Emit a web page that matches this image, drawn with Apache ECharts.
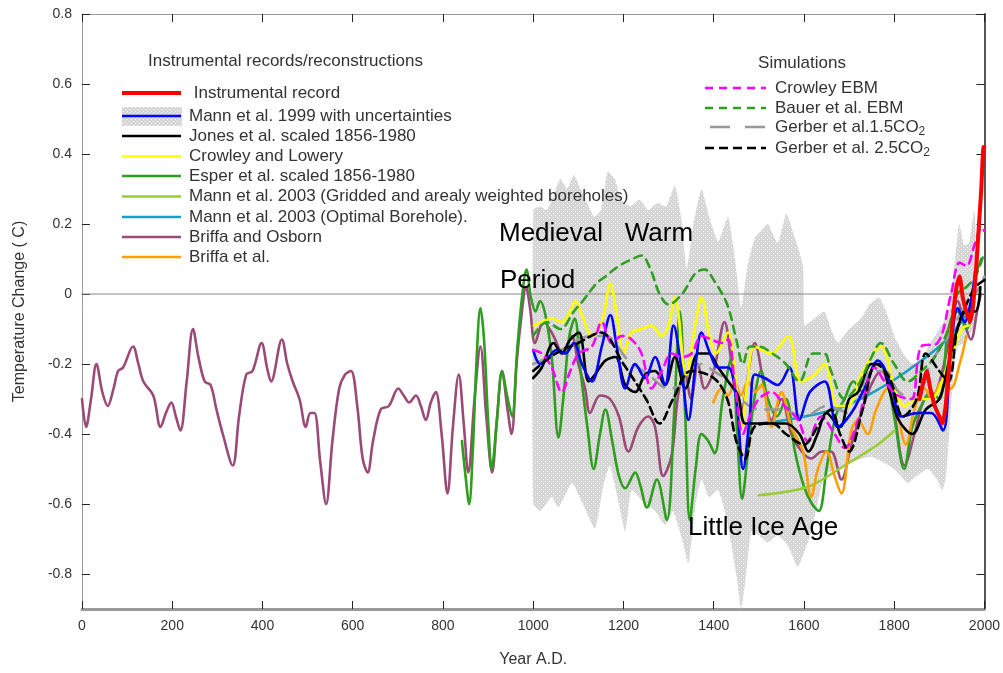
<!DOCTYPE html>
<html><head><meta charset="utf-8">
<script src="https://cdn.jsdelivr.net/npm/echarts@6/dist/echarts.min.js"></script>
<style>html,body{margin:0;padding:0;background:#fff}#c{width:1003px;height:673px}</style>
</head><body><div id="c"></div>
<script>
// ---------- tick labels ----------
const xTickValues = [0,200,400,600,800,1000,1200,1400,1600,1800,2000];
const yTickValues = [-0.8,-0.6,-0.4,-0.2,0,0.2,0.4,0.6,0.8];

// ---------- series data [year, value] ----------
const briffaOsborn = [[0,-0.30],[9,-0.38],[20,-0.3],[32,-0.20],[45,-0.28],[57,-0.32],[70,-0.27],[80,-0.22],[91,-0.21],[113,-0.15],[125,-0.2],[136,-0.25],[158,-0.29],[174,-0.38],[186,-0.34],[198,-0.31],[208,-0.35],[218,-0.39],[232,-0.25],[246,-0.10],[258,-0.18],[272,-0.25],[285,-0.26],[298,-0.33],[312,-0.40],[334,-0.49],[348,-0.35],[364,-0.23],[378,-0.22],[398,-0.14],[410,-0.21],[419,-0.25],[443,-0.13],[455,-0.2],[467,-0.25],[482,-0.3],[496,-0.38],[506,-0.34],[515,-0.34],[528,-0.48],[541,-0.60],[555,-0.42],[570,-0.27],[583,-0.23],[596,-0.22],[610,-0.32],[622,-0.47],[633,-0.51],[645,-0.42],[662,-0.33],[680,-0.32],[701,-0.27],[713,-0.29],[725,-0.31],[740,-0.29],[751,-0.32],[762,-0.36],[773,-0.31],[784,-0.28],[797,-0.4],[810,-0.57],[822,-0.38],[835,-0.23],[846,-0.37],[856,-0.51],[870,-0.3],[883,-0.15],[896,-0.35],[909,-0.51],[920,-0.35],[931,-0.22],[942,-0.32],[952,-0.40],[963,-0.2],[975,-0.05],[984,0.02],[993,-0.04],[1004,-0.14],[1023,-0.08],[1045,-0.12],[1065,-0.17],[1085,-0.12],[1100,-0.2],[1115,-0.27],[1126,-0.34],[1148,-0.29],[1170,-0.30],[1190,-0.35],[1211,-0.45],[1233,-0.38],[1255,-0.35],[1270,-0.38],[1288,-0.52],[1307,-0.46],[1320,-0.3],[1335,-0.22],[1350,-0.3],[1365,-0.2],[1380,-0.27],[1400,-0.22],[1424,-0.08],[1440,-0.2],[1461,-0.33],[1491,-0.14],[1510,-0.25],[1528,-0.36],[1550,-0.3],[1572,-0.4],[1595,-0.45],[1616,-0.47],[1640,-0.45],[1660,-0.45],[1683,-0.53],[1705,-0.43],[1727,-0.34],[1749,-0.26],[1771,-0.22],[1795,-0.3],[1823,-0.49],[1845,-0.4],[1867,-0.3],[1890,-0.29],[1919,-0.15],[1941,-0.02],[1955,-0.08],[1970,-0.13],[1985,-0.04],[1992,0.0]];
const esper = [[842,-0.42],[850,-0.52],[858,-0.60],[866,-0.45],[874,-0.2],[883,-0.04],[891,-0.13],[900,-0.36],[908,-0.50],[919,-0.37],[931,-0.22],[942,-0.29],[953,-0.35],[965,-0.15],[976,0.0],[985,0.07],[995,-0.01],[1005,-0.05],[1015,-0.02],[1027,-0.06],[1041,-0.18],[1056,-0.41],[1068,-0.28],[1080,-0.12],[1092,-0.07],[1105,-0.22],[1120,-0.38],[1134,-0.50],[1148,-0.40],[1160,-0.33],[1175,-0.42],[1190,-0.52],[1204,-0.555],[1226,-0.51],[1238,-0.55],[1252,-0.61],[1274,-0.53],[1296,-0.646],[1312,-0.35],[1325,-0.05],[1337,-0.35],[1347,-0.646],[1360,-0.5],[1373,-0.4],[1388,-0.42],[1402,-0.455],[1420,-0.3],[1440,-0.18],[1452,-0.4],[1463,-0.585],[1476,-0.45],[1490,-0.3],[1505,-0.22],[1520,-0.3],[1540,-0.35],[1560,-0.3],[1580,-0.45],[1600,-0.55],[1618,-0.6],[1633,-0.62],[1650,-0.5],[1670,-0.35],[1690,-0.3],[1710,-0.25],[1730,-0.28],[1760,-0.2],[1780,-0.22],[1800,-0.35],[1822,-0.5],[1840,-0.38],[1860,-0.32],[1880,-0.28],[1900,-0.3],[1920,-0.1],[1940,-0.05],[1960,-0.1],[1980,0.05],[1993,0.1]];
const mann1999 = [[1000,-0.16],[1015,-0.2],[1034,-0.18],[1052,-0.16],[1071,-0.17],[1090,-0.14],[1108,-0.2],[1130,-0.25],[1152,-0.15],[1171,-0.06],[1185,-0.15],[1204,-0.27],[1226,-0.2],[1248,-0.24],[1270,-0.18],[1292,-0.26],[1311,-0.09],[1329,-0.22],[1344,-0.36],[1360,-0.2],[1373,-0.11],[1392,-0.17],[1410,-0.21],[1432,-0.21],[1450,-0.3],[1465,-0.5],[1480,-0.35],[1491,-0.23],[1513,-0.24],[1542,-0.26],[1568,-0.21],[1590,-0.36],[1613,-0.28],[1646,-0.25],[1675,-0.38],[1705,-0.34],[1734,-0.27],[1764,-0.19],[1793,-0.26],[1816,-0.35],[1852,-0.34],[1882,-0.34],[1908,-0.39],[1926,-0.15],[1941,-0.04],[1956,-0.08],[1970,-0.02],[1980,0.07]];
const jones = [[1000,-0.24],[1019,-0.21],[1045,-0.14],[1063,-0.17],[1082,-0.13],[1101,-0.11],[1123,-0.25],[1137,-0.23],[1160,-0.19],[1182,-0.18],[1204,-0.26],[1226,-0.28],[1248,-0.23],[1270,-0.22],[1292,-0.26],[1314,-0.18],[1337,-0.27],[1366,-0.17],[1388,-0.17],[1410,-0.21],[1432,-0.25],[1454,-0.29],[1470,-0.37],[1500,-0.37],[1530,-0.37],[1560,-0.37],[1590,-0.40],[1610,-0.45],[1630,-0.40],[1650,-0.34],[1680,-0.38],[1700,-0.30],[1720,-0.28],[1750,-0.20],[1770,-0.20],[1790,-0.28],[1810,-0.36],[1840,-0.40],[1870,-0.33],[1900,-0.30],[1920,-0.2],[1940,-0.1],[1960,-0.05],[1980,-0.05],[1991,0.02]];
const crowleyLowery = [[1001,-0.09],[1019,-0.08],[1041,-0.07],[1063,-0.08],[1082,-0.05],[1093,-0.02],[1108,-0.06],[1130,-0.12],[1152,-0.08],[1171,0.03],[1185,-0.06],[1200,-0.17],[1218,-0.11],[1240,-0.1],[1262,-0.09],[1285,-0.12],[1300,-0.09],[1314,-0.01],[1339,-0.23],[1360,-0.08],[1373,-0.01],[1392,-0.13],[1405,-0.17],[1432,-0.11],[1445,-0.2],[1461,-0.38],[1475,-0.25],[1491,-0.15],[1528,-0.17],[1565,-0.12],[1594,-0.25],[1624,-0.23],[1646,-0.2],[1675,-0.32],[1697,-0.32],[1727,-0.23],[1771,-0.15],[1801,-0.27],[1823,-0.32],[1850,-0.3],[1880,-0.3],[1920,-0.2],[1950,-0.1],[1965,-0.09]];
const mann2003Grid = [[1500,-0.575],[1560,-0.565],[1616,-0.547],[1690,-0.49],[1764,-0.43],[1801,-0.39]];
const mann2003Opt = [[1500,-0.37],[1560,-0.36],[1620,-0.345],[1680,-0.325],[1740,-0.29],[1800,-0.245],[1850,-0.2],[1900,-0.15],[1930,-0.11],[1960,-0.06]];
const briffaEtAl = [[1399,-0.31],[1417,-0.27],[1432,-0.29],[1447,-0.25],[1460,-0.29],[1476,-0.25],[1491,-0.28],[1506,-0.26],[1528,-0.38],[1550,-0.28],[1572,-0.38],[1598,-0.45],[1616,-0.58],[1631,-0.5],[1650,-0.45],[1668,-0.52],[1683,-0.57],[1705,-0.39],[1720,-0.36],[1741,-0.4],[1760,-0.33],[1786,-0.27],[1805,-0.33],[1826,-0.43],[1845,-0.33],[1867,-0.27],[1885,-0.3],[1905,-0.25],[1925,-0.27],[1945,-0.2],[1960,-0.12]];
const crowleyEBM = [[1000,-0.16],[1019,-0.17],[1041,-0.21],[1063,-0.28],[1082,-0.22],[1101,-0.17],[1130,-0.15],[1152,-0.08],[1174,-0.14],[1196,-0.12],[1218,-0.13],[1240,-0.17],[1262,-0.27],[1285,-0.22],[1307,-0.17],[1329,-0.18],[1351,-0.17],[1373,-0.12],[1395,-0.13],[1417,-0.14],[1432,-0.13],[1447,-0.26],[1465,-0.4],[1480,-0.35],[1500,-0.3],[1528,-0.28],[1557,-0.32],[1587,-0.36],[1608,-0.42],[1638,-0.35],[1668,-0.4],[1690,-0.44],[1720,-0.36],[1757,-0.21],[1779,-0.25],[1808,-0.29],[1838,-0.3],[1860,-0.15],[1896,-0.14],[1926,0.0],[1945,0.09],[1960,0.08],[1978,0.14],[1993,0.19],[2000,0.18]];
const bauerEBM = [[1000,-0.12],[1030,-0.08],[1060,-0.1],[1090,-0.05],[1110,-0.02],[1140,0.03],[1160,0.05],[1190,0.08],[1220,0.1],[1240,0.11],[1260,0.07],[1280,0.0],[1300,-0.03],[1330,0.0],[1360,0.06],[1380,0.07],[1400,0.04],[1430,-0.03],[1450,-0.13],[1465,-0.2],[1480,-0.15],[1500,-0.15],[1530,-0.17],[1560,-0.2],[1590,-0.25],[1620,-0.17],[1645,-0.17],[1660,-0.22],[1690,-0.3],[1720,-0.26],[1750,-0.18],[1770,-0.14],[1800,-0.2],[1830,-0.25],[1860,-0.22],[1890,-0.18],[1920,-0.1],[1940,0.0],[1960,0.02],[1980,0.05],[2000,0.12]];
const gerber15 = [[1000,-0.2],[1050,-0.17],[1100,-0.13],[1130,-0.12],[1160,-0.12],[1211,-0.19],[1255,-0.23],[1300,-0.27],[1329,-0.26],[1373,-0.2],[1400,-0.22],[1432,-0.25],[1460,-0.3],[1500,-0.33],[1550,-0.33],[1600,-0.35],[1650,-0.32],[1700,-0.34],[1750,-0.22],[1780,-0.22],[1810,-0.28],[1850,-0.3],[1880,-0.2],[1920,-0.12],[1950,-0.05],[1980,0.0],[2000,0.05]];
const gerber25 = [[1000,-0.22],[1050,-0.17],[1100,-0.14],[1150,-0.11],[1200,-0.2],[1250,-0.3],[1280,-0.37],[1310,-0.3],[1350,-0.22],[1400,-0.24],[1430,-0.3],[1450,-0.42],[1470,-0.47],[1490,-0.38],[1530,-0.37],[1560,-0.4],[1600,-0.43],[1630,-0.38],[1660,-0.33],[1680,-0.4],[1700,-0.45],[1730,-0.33],[1760,-0.2],[1790,-0.24],[1820,-0.35],[1850,-0.3],[1870,-0.17],[1900,-0.22],[1920,-0.25],[1940,-0.1],[1960,-0.03],[1980,0.02],[2000,0.04]];
const instrumental = [[1856,-0.3],[1865,-0.25],[1872,-0.22],[1880,-0.27],[1890,-0.32],[1900,-0.35],[1907,-0.37],[1914,-0.32],[1922,-0.2],[1930,-0.07],[1938,0.02],[1945,0.05],[1952,-0.01],[1960,-0.05],[1968,-0.08],[1975,-0.03],[1982,0.08],[1988,0.2],[1993,0.3],[1998,0.42],[2000,0.42]];
// uncertainty band of Mann et al. 1999
const bandUpper = [[1000,0.24],[1015,0.25],[1030,0.24],[1045,0.28],[1060,0.33],[1075,0.3],[1090,0.34],[1105,0.3],[1120,0.26],[1135,0.22],[1150,0.24],[1165,0.35],[1180,0.33],[1195,0.27],[1215,0.25],[1235,0.27],[1255,0.24],[1275,0.26],[1295,0.25],[1314,0.31],[1330,0.2],[1340,0.07],[1355,0.2],[1373,0.3],[1390,0.22],[1410,0.15],[1432,0.22],[1447,0.1],[1461,-0.04],[1475,0.08],[1491,0.16],[1505,0.18],[1520,0.2],[1542,0.145],[1561,0.23],[1580,0.16],[1598,0.08],[1601,-0.09],[1623,-0.07],[1645,-0.05],[1660,-0.1],[1675,-0.14],[1700,-0.1],[1726,-0.07],[1745,-0.03],[1767,-0.01],[1785,-0.06],[1800,-0.12],[1820,-0.17],[1840,-0.2],[1859,-0.19],[1880,-0.14],[1900,-0.1],[1922,-0.05],[1935,0.1],[1944,0.2],[1955,0.14],[1966,0.145],[1977,0.24],[1980,0.2]];
const bandLower = [[1000,-0.6],[1016,-0.62],[1041,-0.58],[1056,-0.61],[1086,-0.54],[1110,-0.6],[1137,-0.67],[1155,-0.55],[1170,-0.49],[1190,-0.6],[1204,-0.68],[1218,-0.56],[1248,-0.6],[1270,-0.62],[1292,-0.66],[1310,-0.62],[1330,-0.7],[1344,-0.77],[1360,-0.6],[1373,-0.53],[1390,-0.58],[1410,-0.56],[1430,-0.65],[1450,-0.8],[1461,-0.9],[1472,-0.8],[1483,-0.68],[1500,-0.69],[1520,-0.71],[1542,-0.69],[1565,-0.72],[1586,-0.78],[1600,-0.74],[1616,-0.68],[1630,-0.6],[1645,-0.52],[1670,-0.5],[1704,-0.48],[1730,-0.47],[1749,-0.465],[1775,-0.48],[1800,-0.5],[1815,-0.52],[1830,-0.54],[1850,-0.52],[1874,-0.5],[1895,-0.53],[1907,-0.56],[1915,-0.52],[1922,-0.4],[1930,-0.25],[1940,-0.15],[1955,-0.14],[1965,-0.12],[1975,-0.1],[1980,-0.08]];

// ---------- legend texts ----------
const leftLegendTitle = 'Instrumental records/reconstructions';
const leftLegendLabels = [' Instrumental record','Mann et al. 1999 with uncertainties','Jones et al. scaled 1856-1980','Crowley and Lowery','Esper et al. scaled 1856-1980','Mann et al. 2003 (Gridded and arealy weighted boreholes)','Mann et al. 2003 (Optimal Borehole).','Briffa and Osborn','Briffa et al.'];
const rightLegendTitle = 'Simulations';
const rightLegendLabels = ['Crowley EBM','Bauer et al. EBM','Gerber et al.1.5CO{s|2}','Gerber et al. 2.5CO{s|2}'];

// ---------- styling ----------
const FONT = "'Liberation Sans Narrow','Liberation Sans',Arial,sans-serif";
const C = {red:'#ff0000', blue:'#0000ff', black:'#000000', yellow:'#ffff00', green:'#2e9e1e', lgreen:'#9acd32', teal:'#1a9fc4', purple:'#9b4a78', orange:'#ffa000', magenta:'#ff00ff', gray:'#999999'};

// dotted grey pattern for the uncertainty band
const pc = document.createElement('canvas'); pc.width = 4; pc.height = 4;
const pg = pc.getContext('2d');
pg.fillStyle = '#d6d6d6'; pg.fillRect(0,0,4,4);
pg.fillStyle = '#f4f4f4'; pg.fillRect(1,1,1,1); pg.fillRect(3,3,1,1);
const bandFill = {image: pc, repeat: 'repeat'};

function lineSeries(name, data, color, width, dash, z, smooth) {
  return {
    name, type: 'line', data, showSymbol: false, symbol: 'none', z: z,
    smooth: smooth === undefined ? 0.35 : smooth,
    lineStyle: {color, width, type: dash || 'solid', cap: 'round', join: 'round'},
    animation: false
  };
}

const series = [
  {
    type: 'custom', name: 'band', coordinateSystem: 'cartesian2d', z: 1,
    data: [[bandUpper[0][0], bandUpper[0][1]]], encode: {x: 0, y: 1}, silent: true, animation: false,
    renderItem: function (params, api) {
      const pts = [];
      bandUpper.forEach(p => pts.push(api.coord(p)));
      for (let i = bandLower.length - 1; i >= 0; i--) pts.push(api.coord(bandLower[i]));
      return {type: 'polygon', shape: {points: pts, smooth: 0.15}, style: {fill: bandFill, stroke: null}};
    }
  },
  lineSeries('Zero', [[0,0],[2000,0]], '#8a8a8a', 1, 'solid', 2, false),
  lineSeries('Briffa and Osborn', briffaOsborn, C.purple, 2.6, 'solid', 3),
  lineSeries('Esper et al.', esper, C.green, 2.6, 'solid', 4),
  lineSeries('Mann 2003 gridded', mann2003Grid, C.lgreen, 2.6, 'solid', 5),
  lineSeries('Mann 2003 optimal', mann2003Opt, C.teal, 2.6, 'solid', 5),
  lineSeries('Briffa et al.', briffaEtAl, C.orange, 2.6, 'solid', 6),
  lineSeries('Crowley and Lowery', crowleyLowery, C.yellow, 2.6, 'solid', 6),
  lineSeries('Gerber 1.5', gerber15, C.gray, 2.6, [14,10], 7),
  lineSeries('Jones', jones, C.black, 2.6, 'solid', 7),
  lineSeries('Mann 1999', mann1999, C.blue, 2.6, 'solid', 8),
  lineSeries('Crowley EBM', crowleyEBM, C.magenta, 2.6, [8,6], 9),
  lineSeries('Bauer EBM', bauerEBM, C.green, 2.6, [8,6], 9),
  lineSeries('Gerber 2.5', gerber25, C.black, 2.6, [8,5], 9),
  lineSeries('Instrumental', instrumental, C.red, 4, 'solid', 10, 0.2)
];

// ---------- legend graphics ----------
const graphic = [];
graphic.push({type:'text', z: 50, x: 148, y: 61, style:{text: leftLegendTitle, font: '17px ' + FONT, fill:'#333', verticalAlign:'middle'}});
const leftStyles = [
  {c:C.red, w:4}, {c:C.blue, w:2.5, box:true}, {c:C.black, w:2.5}, {c:C.yellow, w:2.5}, {c:C.green, w:2.5},
  {c:C.lgreen, w:2.5}, {c:C.teal, w:2.5}, {c:C.purple, w:2.5}, {c:C.orange, w:2.5}
];
const leftRowY = [93, 116, 136, 156.5, 176, 196.5, 217, 237, 257];
leftLegendLabels.forEach((t, i) => {
  const y = leftRowY[i], s = leftStyles[i];
  if (s.box) graphic.push({type:'rect', z: 50, shape:{x:122, y:y-9, width:60, height:19}, style:{fill: bandFill}});
  graphic.push({type:'line', z: 51, shape:{x1:122, y1:y, x2:181, y2:y}, style:{stroke:s.c, lineWidth:s.w}});
  graphic.push({type:'text', z: 51, x: 189, y: y, style:{text:t, font:'17px ' + FONT, fill:'#333', verticalAlign:'middle'}});
});
graphic.push({type:'text', z: 50, x: 802, y: 63, style:{text: rightLegendTitle, font:'17px ' + FONT, fill:'#333', align:'center', verticalAlign:'middle'}});
const rightStyles = [
  {c:C.magenta, d:[8,6], x1:705, x2:766}, {c:C.green, d:[8,6], x1:705, x2:766},
  {c:C.gray, d:[20,15], x1:710, x2:765}, {c:C.black, d:[9,5], x1:705, x2:766}
];
const rightRowY = [88, 108, 127, 148];
rightLegendLabels.forEach((t, i) => {
  const y = rightRowY[i], s = rightStyles[i];
  graphic.push({type:'line', z: 51, shape:{x1:s.x1, y1:y, x2:s.x2, y2:y}, style:{stroke:s.c, lineWidth:2.5, lineDash:s.d}});
  graphic.push({type:'text', z: 51, x: 775, y: y, style:{text:t, font:'17px ' + FONT, fill:'#333', verticalAlign:'middle',
    rich:{s:{fontSize:12, fontFamily: FONT, fill:'#333', padding:[9,0,0,0]}}}});
});
// annotations
const annFont = '26px "Liberation Sans", Arial, sans-serif';
graphic.push({type:'text', z: 60, x: 499, y: 234, style:{text:'Medieval   Warm', font: annFont, fill:'#000', verticalAlign:'middle'}});
graphic.push({type:'text', z: 60, x: 500, y: 280.5, style:{text:'Period', font: annFont, fill:'#000', verticalAlign:'middle'}});
graphic.push({type:'text', z: 60, x: 688, y: 528, style:{text:'Little Ice Age', font: annFont, fill:'#000', verticalAlign:'middle'}});

const chart = echarts.init(document.getElementById('c'), null, {renderer: 'canvas'});
chart.setOption({
  animation: false,
  backgroundColor: '#ffffff',
  grid: {left: 82, right: 16, top: 14, bottom: 64, containLabel: false},
  xAxis: [
    {type:'value', min:0, max:2000, interval:200, position:'bottom',
     name:'Year A.D.', nameLocation:'middle', nameGap: 43,
     nameTextStyle:{fontFamily: FONT, fontSize:16, color:'#333'},
     axisLine:{show:true, onZero:false, lineStyle:{color:'#9a9a9a', width:3}},
     axisTick:{show:true, inside:true, length:8, lineStyle:{color:'#222', width:1}},
     axisLabel:{show:true, margin:10, fontFamily: FONT, fontSize:14, color:'#333',
       customValues: xTickValues, formatter: v => String(v)},
     splitLine:{show:false}},
    {type:'value', min:0, max:2000, interval:200, position:'top',
     axisLine:{show:true, onZero:false, lineStyle:{color:'#9a9a9a', width:1}},
     axisTick:{show:true, inside:true, length:8, lineStyle:{color:'#222', width:1}},
     axisLabel:{show:false}, splitLine:{show:false}}
  ],
  yAxis: [
    {type:'value', min:-0.9, max:0.8, position:'left',
     name:'Temperature Change ( C)', nameLocation:'middle', nameGap: 54, nameRotate: 90,
     nameTextStyle:{fontFamily: FONT, fontSize:16, color:'#333'},
     axisLine:{show:true, onZero:false, lineStyle:{color:'#9a9a9a', width:1}},
     axisTick:{show:true, inside:true, length:8, customValues: yTickValues, lineStyle:{color:'#222', width:1}},
     axisLabel:{show:true, margin:10, fontFamily: FONT, fontSize:14, color:'#333',
       customValues: yTickValues, formatter: v => (Math.round(v*10)/10).toString()},
     splitLine:{show:false}},
    {type:'value', min:-0.9, max:0.8, position:'right',
     axisLine:{show:true, onZero:false, lineStyle:{color:'#555', width:2}},
     axisTick:{show:true, inside:true, length:8, customValues: yTickValues, lineStyle:{color:'#222', width:1}},
     axisLabel:{show:false}, splitLine:{show:false}}
  ],
  series: series,
  graphic: graphic
});
</script>
</body></html>
